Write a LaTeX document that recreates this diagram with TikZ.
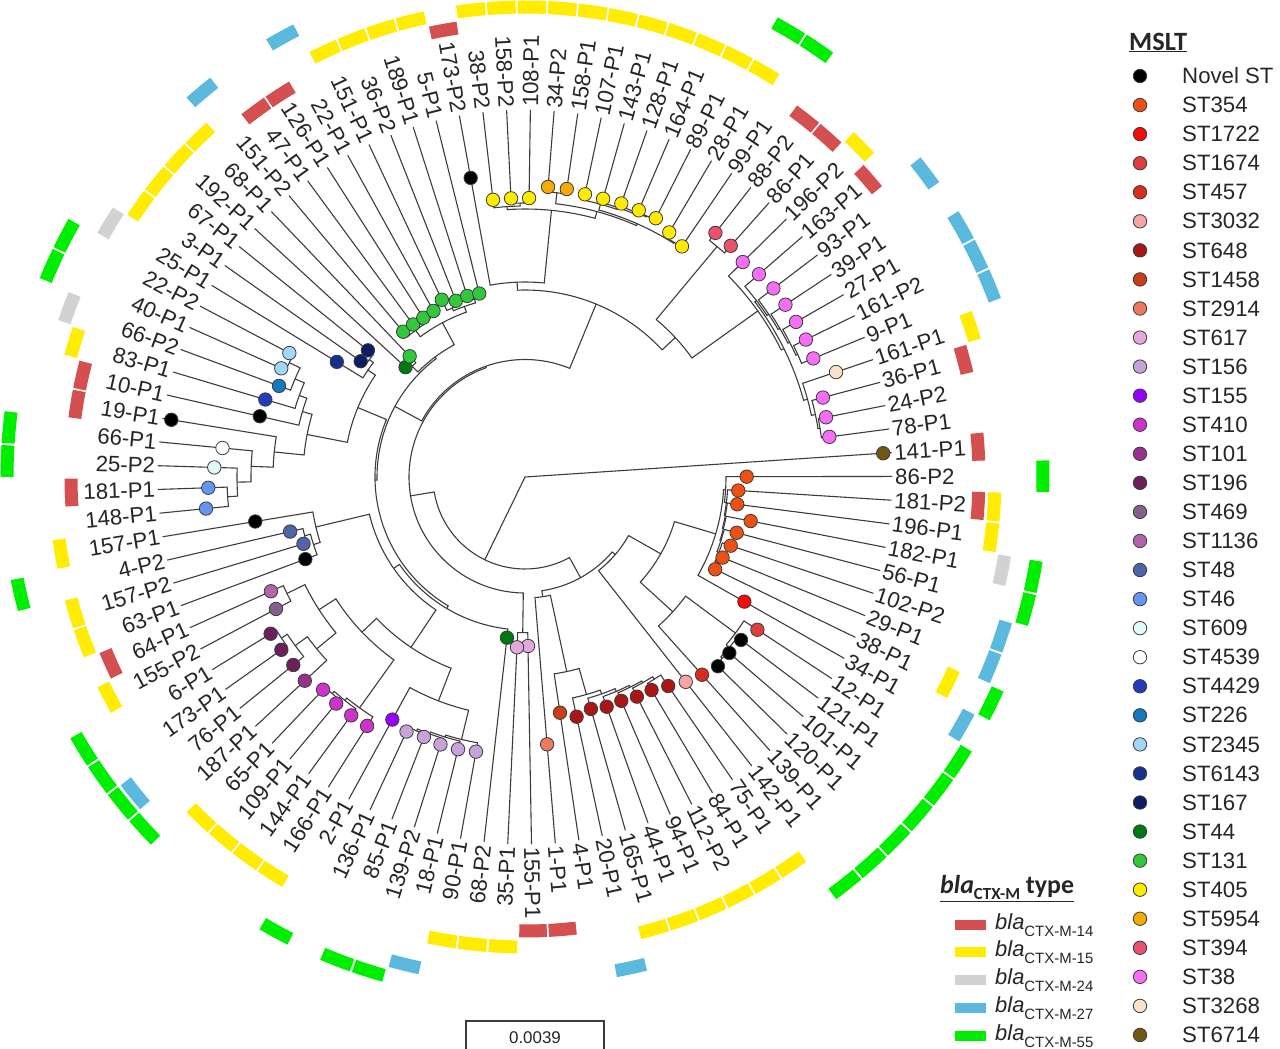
\documentclass[tikz,border=0pt]{standalone}
\usepackage{fontspec}
\setmainfont{Liberation Sans}
\newfontfamily\calfont{Carlito}
\pgfdeclarelayer{fg}
\pgfsetlayers{main,fg}
\definecolor{brc}{RGB}{60,60,60}
\definecolor{c354}{RGB}{238,80,20}
\definecolor{c1722}{RGB}{245,10,10}
\definecolor{c1674}{RGB}{222,62,62}
\definecolor{c457}{RGB}{215,45,30}
\definecolor{c3032}{RGB}{245,165,165}
\definecolor{c648}{RGB}{170,22,22}
\definecolor{c1458}{RGB}{200,62,22}
\definecolor{c2914}{RGB}{235,122,95}
\definecolor{c617}{RGB}{228,168,222}
\definecolor{c156}{RGB}{200,162,218}
\definecolor{c155}{RGB}{150,0,255}
\definecolor{c410}{RGB}{205,50,205}
\definecolor{c101}{RGB}{150,50,140}
\definecolor{c196}{RGB}{110,30,90}
\definecolor{c469}{RGB}{130,95,140}
\definecolor{c1136}{RGB}{180,100,170}
\definecolor{c48}{RGB}{80,100,170}
\definecolor{c46}{RGB}{100,150,240}
\definecolor{c609}{RGB}{225,250,250}
\definecolor{c4539}{RGB}{255,255,255}
\definecolor{c4429}{RGB}{35,60,190}
\definecolor{c226}{RGB}{20,120,190}
\definecolor{c2345}{RGB}{160,215,250}
\definecolor{c6143}{RGB}{20,50,140}
\definecolor{c167}{RGB}{10,30,100}
\definecolor{c44}{RGB}{0,120,20}
\definecolor{c131}{RGB}{50,200,60}
\definecolor{c405}{RGB}{255,235,0}
\definecolor{c5954}{RGB}{245,170,0}
\definecolor{c394}{RGB}{235,80,110}
\definecolor{c38}{RGB}{245,110,245}
\definecolor{c3268}{RGB}{250,225,200}
\definecolor{c6714}{RGB}{115,85,20}
\definecolor{ringred}{RGB}{212,80,80}
\definecolor{ringyel}{RGB}{255,236,0}
\definecolor{ringgray}{RGB}{210,210,210}
\definecolor{ringblue}{RGB}{90,185,220}
\definecolor{ringgreen}{RGB}{0,238,0}
\pgfmathdeclarefunction{ta}{1}{\pgfmathparse{3.8-(#1-1)*3.71134}}
\tikzset{
  br/.style={draw=brc, line width=1.1, line cap=round},
  dot/.style={circle, draw=brc, line width=0.8, minimum size=13.5, inner sep=0},
  lbl/.style={inner sep=0, text=black!85, font=\fontsize{22.3}{26}\selectfont},
}
% clade: parent r, r, connector t, first t, last t
\newcommand\cl[5]{%
  \draw[br] ({ta(#3)}:#1) -- ({ta(#3)}:#2);
  \draw[br] ({ta(#4)}:#2) arc[start angle={ta(#4)}, end angle={ta(#5)}, radius=#2];}
% leaf: parent r, t, dot r, colour, label
\newcommand\lf[5]{%
  \pgfmathsetmacro\myA{ta(#2)}%
  \pgfmathsetmacro\myB{\myA<-270?\myA+360:\myA}%
  \pgfmathtruncatemacro\myS{(\myB>-90)&&(\myB<90)?1:0}%
  \draw[br] (\myA:#1) -- (\myA:367);
  \begin{pgfonlayer}{fg}
  \node[dot,fill=#4] at (\myA:#3) {};
  \ifnum\myS=1
    \node[lbl,anchor=west,rotate=\myB] at (\myB:370) {#5};
  \else
    \pgfmathsetmacro\myC{\myB+180}%
    \node[lbl,anchor=east,rotate=\myC] at (\myB:370) {#5};
  \fi
  \end{pgfonlayer}}
\newcommand\ringset[3]{%
  \pgfmathsetmacro\myRi{#2-6.5}\pgfmathsetmacro\myRo{#2+6.5}%
  \foreach \q in {#3}{%
    \pgfmathsetmacro\myRa{ta(\q)+1.74}\pgfmathsetmacro\myRb{ta(\q)-1.74}%
    \fill[#1] (\myRa:\myRi) arc[start angle=\myRa, end angle=\myRb, radius=\myRi]
      -- (\myRb:\myRo) arc[start angle=\myRb, end angle=\myRa, radius=\myRo] -- cycle;}}
\newcommand\blaitem[3]{%
  \fill[#1] (955,{-#2-5}) rectangle (986,{-#2+5});
  \node[anchor=west, inner sep=0, text=black!85, font=\fontsize{22}{24}\selectfont] at (995,-#2)
    {\textit{bla}\raisebox{-0.3em}{\fontsize{15}{15}\selectfont CTX-M-#3}};}
\begin{document}
\begin{tikzpicture}[x=1bp,y=1bp]
\fill[white] (0,0) rectangle (1280,-1049);
\path[use as bounding box] (0,0) rectangle (1280,-1049);
\begin{scope}[shift={(525,-477)}]
% ---- rings ----
\ringset{ringred}{454}{1,3,25,26,44,50,53,54,65,66,72,85,86,88,95}
\ringset{ringyel}{470}{3,4,9,17,18,19,20,21,22,27,28,29,35,36,37,38,43,45,46,48,55,60,61,62,63,68,69,70,71,73,74,75,76,77,78,79,80,81,82,83,87,94}
\ringset{ringgray}{486}{5,56,59}
\ringset{ringblue}{502}{7,8,10,23,30,40,64,67,89,91,92,93}
\ringset{ringgreen}{518}{2,5,6,9,11,12,13,14,15,16,31,32,34,39,40,41,42,47,51,52,57,58,83,84}
% ---- tree ----
\lf{0}{1}{359}{c6714}{141-P1}
\cl{0}{92}{33.25}{18.49}{48.0}
% A2
\cl{92}{115}{18.49}{12.98}{24.0}
 \cl{115}{119}{12.98}{9.97}{16}
  \lf{119}{16}{260.4}{c3032}{142-P1}
  \cl{119}{156}{9.97}{6.5}{13.44}
   \cl{156}{199}{6.5}{2.99}{10}
    \lf{199}{10}{252.3}{c1722}{34-P1}
    \cl{199}{201}{2.99}{2}{3.98}
     \lf{201}{2}{221.7}{c354}{86-P2}
     \cl{201}{203}{3.98}{3}{4.97}
      \lf{203}{3}{213.7}{c354}{181-P2}
      \cl{203}{204}{4.97}{4}{5.94}
       \lf{204}{4}{214}{c354}{196-P1}
       \cl{204}{205}{5.94}{5}{6.875}
        \lf{205}{5}{229.9}{c354}{182-P1}
        \cl{205}{206}{6.875}{6}{7.75}
         \lf{206}{6}{218.9}{c354}{56-P1}
         \cl{206}{208}{7.75}{7}{8.5}
          \lf{208}{7}{216.9}{c354}{102-P2}
          \cl{208}{210}{8.5}{8}{9}
           \lf{210}{8}{213.4}{c354}{29-P1}
           \lf{210}{9}{211.4}{c354}{38-P1}
   \cl{156}{200}{13.44}{11.875}{15}
    \lf{200}{15}{265.4}{c457}{139-P1}
    \cl{200}{262}{11.875}{11}{12.75}
     \lf{262}{11}{278.1}{c1674}{12-P1}
     \cl{262}{266}{12.75}{12}{13.5}
      \lf{266}{12}{270.6}{black}{121-P1}
      \cl{266}{268}{13.5}{13}{14}
       \lf{268}{13}{269.7}{black}{101-P1}
       \lf{268}{14}{270.3}{black}{120-P1}
 \cl{115}{121}{24.0}{23.01}{25}
  \lf{121}{25}{268.2}{c2914}{1-P1}
  \cl{121}{199}{23.01}{22.02}{24}
   \lf{199}{24}{238.3}{c1458}{4-P1}
   \cl{199}{226}{22.02}{21.03}{23}
    \lf{226}{23}{245.2}{c648}{20-P1}
    \cl{226}{230}{21.03}{20.06}{22}
     \lf{230}{22}{241.1}{c648}{165-P1}
     \cl{230}{233}{20.06}{19.125}{21}
      \lf{233}{21}{243.8}{c648}{44-P1}
      \cl{233}{235}{19.125}{18.25}{20}
       \lf{235}{20}{243.7}{c648}{94-P1}
       \cl{235}{237}{18.25}{17.5}{19}
        \lf{237}{19}{246.5}{c648}{112-P2}
        \cl{237}{240}{17.5}{17}{18}
         \lf{240}{17}{253.4}{c648}{75-P1}
         \lf{240}{18}{247.8}{c648}{84-P1}
% A1
\cl{92}{116}{48.0}{26.5}{69.5}
 \cl{116}{155.7}{26.5}{26}{27}
  \lf{155.7}{26}{169}{c617}{155-P1}
  \lf{155.7}{27}{170.5}{c617}{35-P1}
 \cl{116}{117.5}{69.5}{58.2}{80.8}
  \cl{117.5}{187}{80.8}{74.15}{87.48}
   \cl{187}{195}{74.15}{72}{76.3}
    \lf{195}{72}{304}{black}{173-P2}
    \cl{195}{268}{76.3}{73.75}{78.86}
     \cl{268}{271}{73.75}{73}{74.5}
      \lf{271}{73}{279}{c405}{38-P2}
      \cl{271}{274}{74.5}{74}{75}
       \lf{274}{74}{279}{c405}{158-P2}
       \lf{274}{75}{279}{c405}{108-P1}
     \cl{268}{275}{78.86}{76.5}{81.22}
      \cl{275}{286}{76.5}{76}{77}
       \lf{286}{76}{291}{c5954}{34-P2}
       \lf{286}{77}{291}{c5954}{158-P1}
      \cl{275}{277}{81.22}{78.94}{83.5}
       \cl{277}{283}{78.94}{78}{79.875}
        \lf{283}{78}{289}{c405}{107-P1}
        \cl{283}{285}{79.875}{79}{80.75}
         \lf{285}{79}{289}{c405}{143-P1}
         \cl{285}{287}{80.75}{80}{81.5}
          \lf{287}{80}{290}{c405}{128-P1}
          \cl{287}{288}{81.5}{81}{82}
           \lf{288}{81}{290}{c405}{164-P1}
           \lf{288}{82}{290}{c405}{89-P1}
       \cl{277}{278}{83.5}{83}{84}
        \lf{278}{83}{284}{c405}{28-P1}
        \lf{278}{84}{279}{c405}{99-P1}
   \cl{187}{205}{87.48}{85.5}{89.46}
    \cl{205}{300}{85.5}{85}{86}
     \lf{300}{85}{309.6}{c394}{88-P2}
     \lf{300}{86}{309.5}{c394}{86-P1}
    \cl{205}{286}{89.46}{87}{91.92}
     \lf{286}{87}{306}{c38}{196-P2}
     \cl{286}{289}{91.92}{88.97}{94.875}
      \cl{289}{291}{88.97}{88}{89.94}
       \lf{291}{88}{309.6}{c38}{163-P1}
       \cl{291}{293}{89.94}{89}{90.875}
        \lf{293}{89}{311.9}{c38}{93-P1}
        \cl{293}{295}{90.875}{90}{91.75}
         \lf{295}{90}{312.3}{c38}{39-P1}
         \cl{295}{297}{91.75}{91}{92.5}
          \lf{297}{91}{312.3}{c38}{27-P1}
          \cl{297}{299}{92.5}{92}{93}
           \lf{299}{92}{312.7}{c38}{161-P2}
           \lf{299}{93}{311.8}{c38}{9-P1}
      \cl{289}{293}{94.875}{94}{95.75}
       \lf{293}{94}{328.3}{c3268}{161-P1}
       \cl{293}{297}{95.75}{95}{96.5}
        \lf{297}{95}{308.3}{c38}{36-P1}
        \cl{297}{299}{96.5}{96}{97}
         \lf{299}{96}{306.9}{c38}{24-P2}
         \lf{299}{97}{307}{c38}{78-P1}
  \cl{117.5}{148}{58.2}{50.2}{64.84}
   \cl{148}{150}{64.84}{62.5}{67.19}
    \cl{150}{158}{62.5}{62}{63}
     \lf{158}{62}{162.3}{c44}{192-P1}
     \lf{158}{63}{167}{c131}{68-P1}
    \cl{150}{175}{67.19}{64.875}{69.5}
     \cl{175}{183}{64.875}{64}{65.75}
      \lf{183}{64}{189.6}{c131}{151-P2}
      \cl{183}{185}{65.75}{65}{66.5}
       \lf{185}{65}{189.2}{c131}{47-P1}
       \cl{185}{186}{66.5}{66}{67}
        \lf{186}{66}{189}{c131}{126-P1}
        \lf{186}{67}{189.6}{c131}{22-P1}
     \cl{175}{181}{69.5}{68.5}{70.5}
      \cl{181}{184}{68.5}{68}{69}
       \lf{184}{68}{195.8}{c131}{151-P1}
       \lf{184}{69}{189.3}{c131}{36-P2}
      \cl{181}{185}{70.5}{70}{71}
       \lf{185}{70}{190.1}{c131}{189-P1}
       \lf{185}{71}{189.1}{c131}{5-P1}
   \cl{148}{150}{50.2}{34.57}{56.6}
    \cl{150}{153}{34.57}{28}{41.14}
     \lf{153}{28}{161.7}{c44}{68-P2}
     \cl{153}{160}{41.14}{35.38}{46.9}
      \cl{160}{205}{35.38}{31.97}{38.78}
       \cl{205}{240}{31.97}{29.94}{34}
        \lf{240}{34}{276.5}{c155}{2-P1}
        \cl{240}{270}{29.94}{29}{30.875}
         \lf{270}{29}{279}{c156}{90-P1}
         \cl{270}{272}{30.875}{30}{31.75}
          \lf{272}{30}{280.3}{c156}{18-P1}
          \cl{272}{274}{31.75}{31}{32.5}
           \lf{274}{31}{280.5}{c156}{139-P2}
           \cl{274}{276}{32.5}{32}{33}
            \lf{276}{32}{278.9}{c156}{85-P1}
            \lf{276}{33}{280.8}{c156}{136-P1}
       \cl{205}{225}{38.78}{35.875}{41.69}
        \cl{225}{284}{35.875}{35}{36.75}
         \lf{284}{35}{294.8}{c410}{166-P1}
         \cl{284}{287}{36.75}{36}{37.5}
          \lf{287}{36}{295}{c410}{144-P1}
          \cl{287}{290}{37.5}{37}{38}
           \lf{290}{37}{294.9}{c410}{109-P1}
           \lf{290}{38}{293.3}{c410}{65-P1}
        \cl{225}{245}{41.69}{39.875}{43.5}
         \cl{245}{270}{39.875}{39}{40.75}
          \lf{270}{39}{300}{c101}{187-P1}
          \cl{270}{285}{40.75}{40}{41.5}
           \lf{285}{40}{298.4}{c196}{76-P1}
           \cl{285}{292}{41.5}{41}{42}
            \lf{292}{41}{298.7}{c196}{173-P1}
            \lf{292}{42}{298.8}{c196}{6-P1}
         \cl{245}{265}{43.5}{43}{44}
          \lf{265}{43}{281.8}{c469}{155-P2}
          \lf{265}{44}{278.6}{c1136}{64-P1}
      \cl{160}{215}{46.9}{45.75}{48}
       \lf{215}{48}{273.4}{black}{157-P1}
       \cl{215}{222}{45.75}{45}{46.5}
        \lf{222}{45}{234.5}{black}{63-P1}
        \cl{222}{228}{46.5}{46}{47}
         \lf{228}{46}{231.4}{c48}{157-P2}
         \lf{228}{47}{241.1}{c48}{4-P2}
    \cl{150}{181}{56.6}{53.5}{59.75}
     \cl{181}{222}{53.5}{52.06}{54.94}
      \cl{222}{252}{52.06}{51.125}{53}
       \lf{252}{53}{358.3}{black}{19-P1}
       \cl{252}{274}{51.125}{50.25}{52}
        \lf{274}{52}{303.9}{c4539}{66-P1}
        \cl{274}{288}{50.25}{49.5}{51}
         \lf{288}{51}{310.9}{c609}{25-P2}
         \cl{288}{298}{49.5}{49}{50}
          \lf{298}{49}{320.5}{c46}{148-P1}
          \lf{298}{50}{316.9}{c46}{181-P1}
      \cl{222}{232}{54.94}{54}{55.875}
       \lf{232}{54}{272.1}{black}{10-P1}
       \cl{232}{240}{55.875}{55}{56.75}
        \lf{240}{55}{271}{c4429}{83-P1}
        \cl{240}{250}{56.75}{56}{57.5}
         \lf{250}{56}{262.3}{c226}{66-P2}
         \cl{250}{262}{57.5}{57}{58}
          \lf{262}{57}{266.9}{c2345}{40-P1}
          \lf{262}{58}{266.3}{c2345}{22-P2}
     \cl{181}{190}{59.75}{59}{60.5}
      \lf{190}{59}{220.6}{c6143}{25-P1}
      \cl{190}{195}{60.5}{60}{61}
       \lf{195}{60}{201}{c167}{3-P1}
       \lf{195}{61}{201.8}{c167}{67-P1}
\end{scope}
% ---- MSLT legend ----
\node[anchor=base west, inner sep=0, text=black!85, font=\calfont\bfseries\fontsize{26.5}{28}\selectfont] (mslt) at (1129,-50) {\underline{MSLT}};
\foreach \c/\n [count=\k from 0] in {black/Novel ST, c354/ST354, c1722/ST1722, c1674/ST1674, c457/ST457, c3032/ST3032, c648/ST648, c1458/ST1458, c2914/ST2914, c617/ST617, c156/ST156, c155/ST155, c410/ST410, c101/ST101, c196/ST196, c469/ST469, c1136/ST1136, c48/ST48, c46/ST46, c609/ST609, c4539/ST4539, c4429/ST4429, c226/ST226, c2345/ST2345, c6143/ST6143, c167/ST167, c44/ST44, c131/ST131, c405/ST405, c5954/ST5954, c394/ST394, c38/ST38, c3268/ST3268, c6714/ST6714}{
  \node[dot, fill=\c] (ld\k) at (1140,{-76-29.06*\k}) {};
  \node[lbl, anchor=west] (lt\k) at (1182,{-76-29.06*\k}) {\n};
}
% ---- bla legend ----
\node[anchor=base west, inner sep=0, text=black!85, font=\calfont\bfseries\fontsize{26}{28}\selectfont] (blat) at (940,-893)
  {\underline{\textit{bla}\raisebox{-0.25em}{\fontsize{17}{17}\selectfont CTX-M} type}};
\blaitem{ringred}{925}{14}
\blaitem{ringyel}{952}{15}
\blaitem{ringgray}{980}{24}
\blaitem{ringblue}{1008}{27}
\blaitem{ringgreen}{1036}{55}
% ---- scale bar ----
\draw[brc, line width=1.1] (466,-1049) -- (466,-1021) -- (604,-1021) -- (604,-1049);
\node[inner sep=0, text=black!85, font=\fontsize{17}{18}\selectfont] (sc) at (535,-1038) {0.0039};
\end{tikzpicture}
\end{document}
